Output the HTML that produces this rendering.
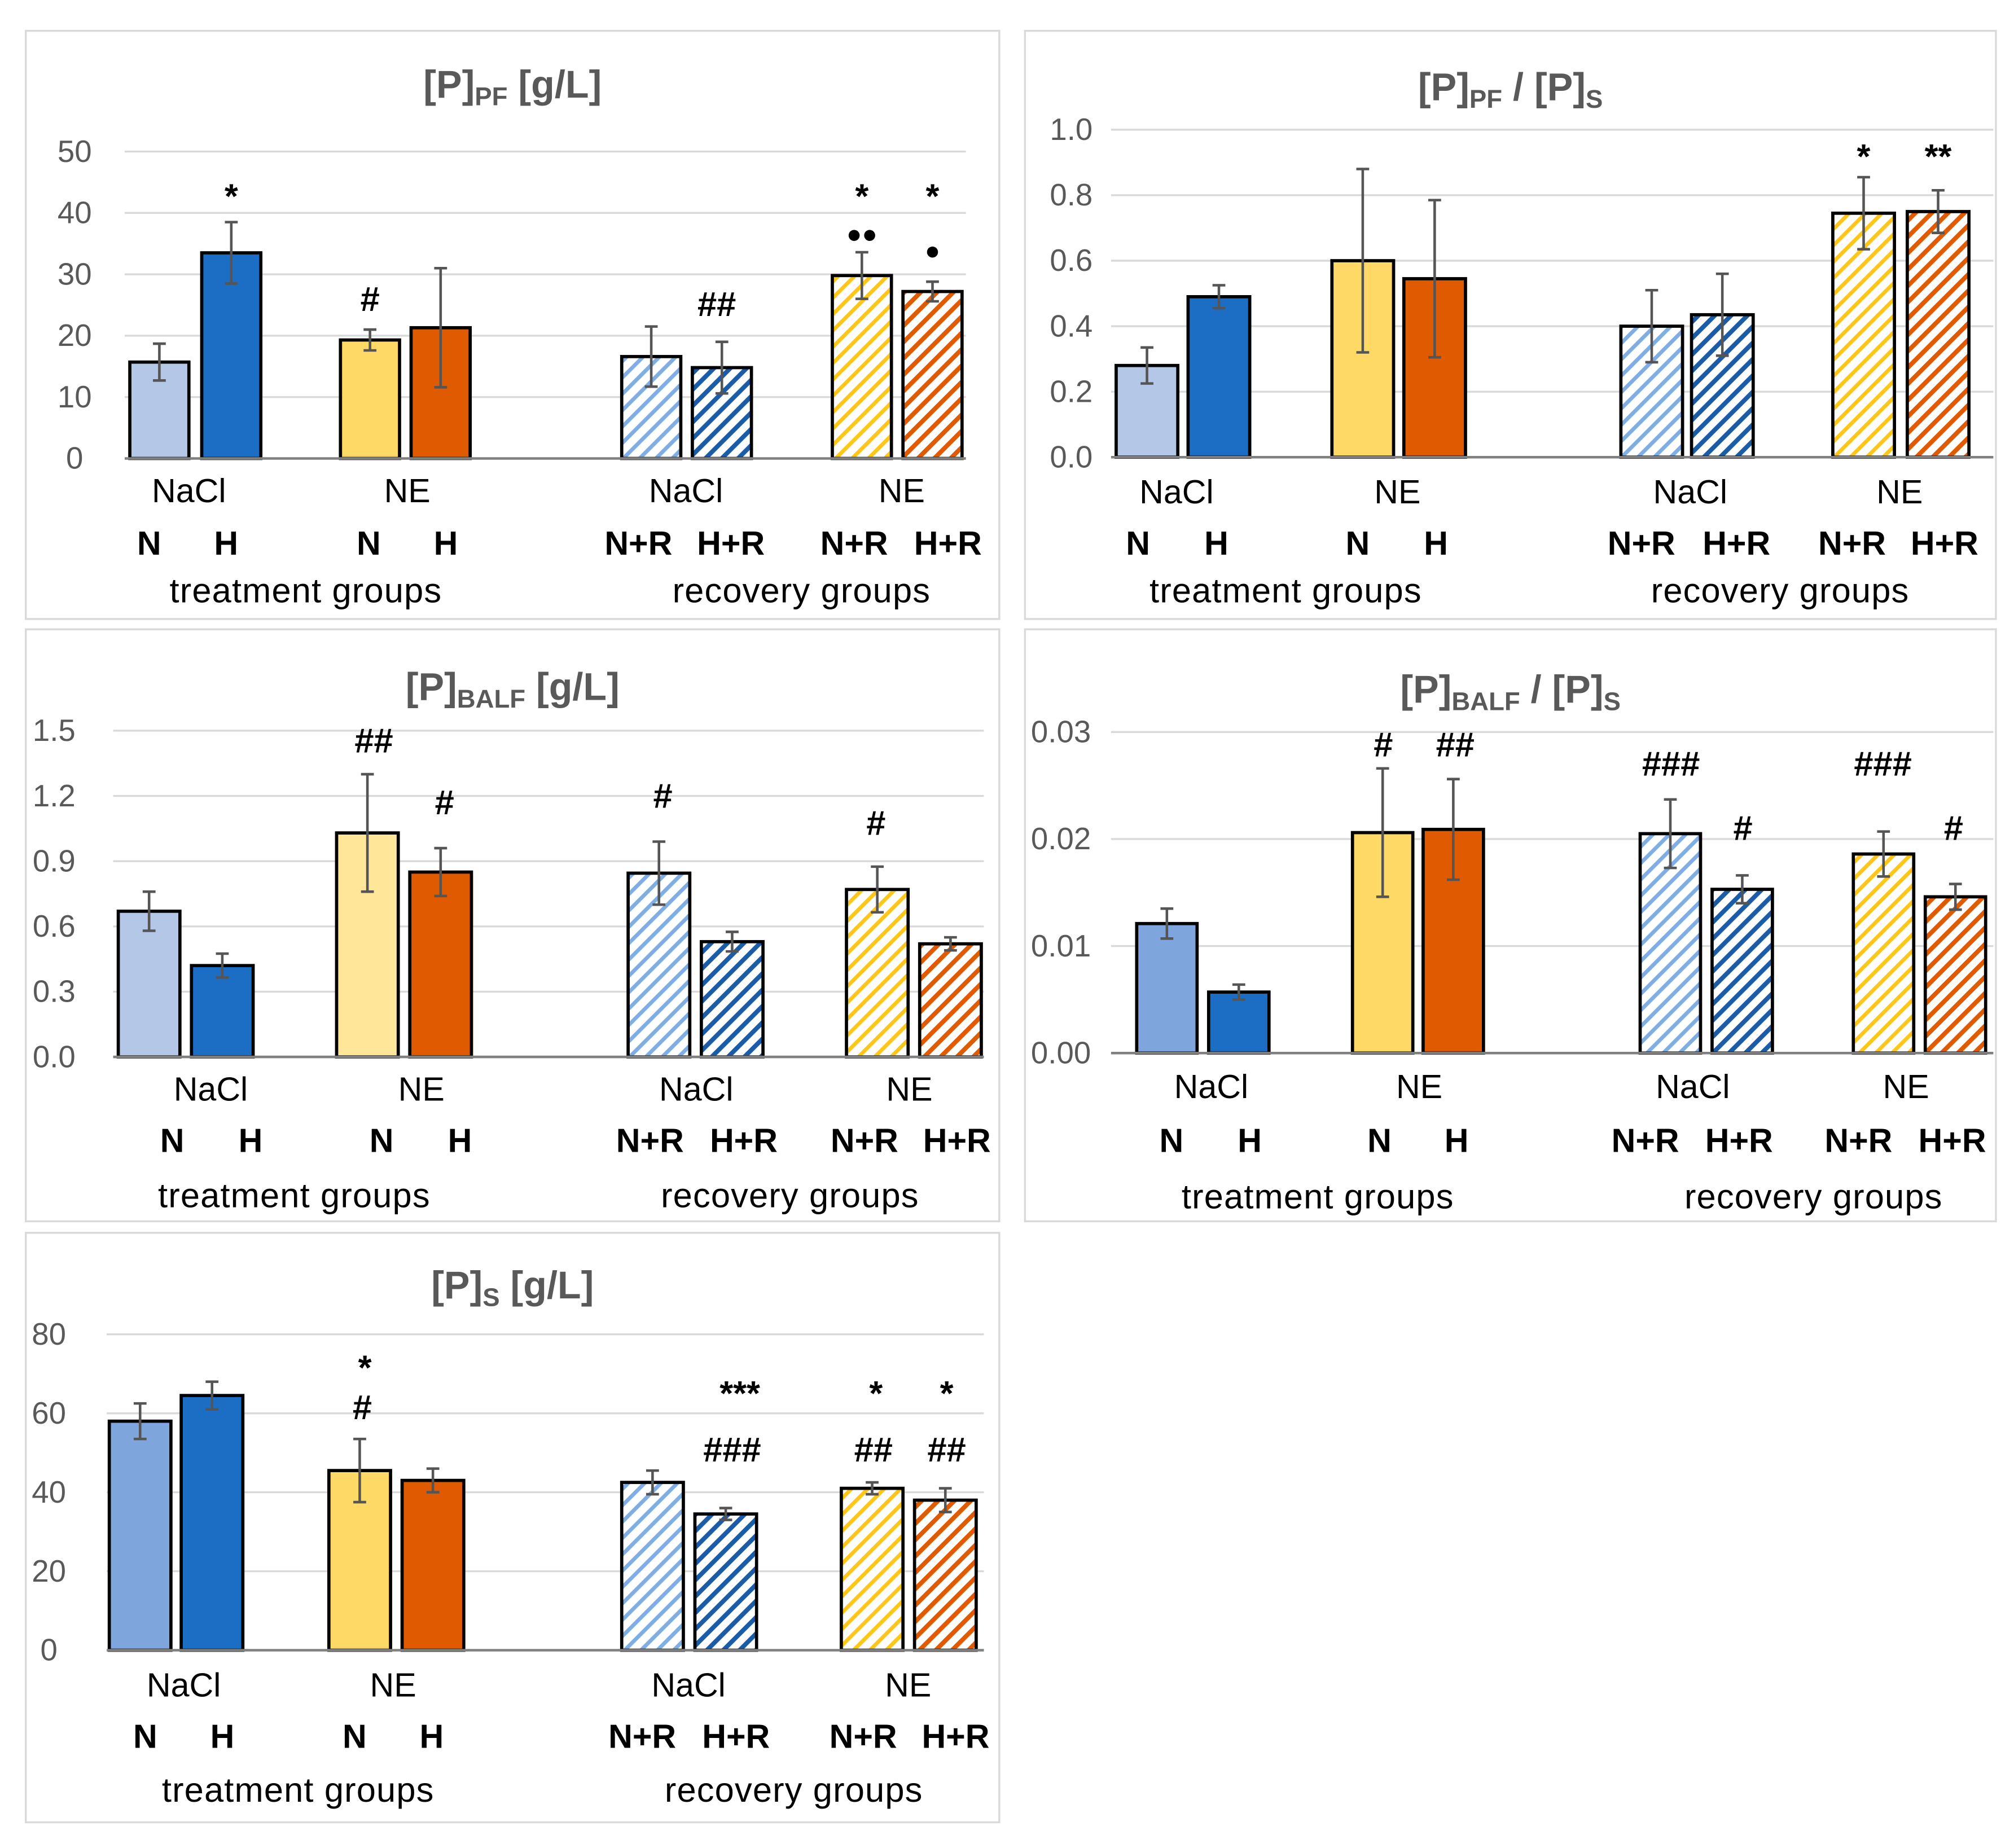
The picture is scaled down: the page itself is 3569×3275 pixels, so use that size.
<!DOCTYPE html>
<html><head><meta charset="utf-8">
<style>html,body{margin:0;padding:0;background:#fff;}svg{display:block;}</style>
</head><body>
<svg id="fig" xmlns="http://www.w3.org/2000/svg" width="3569" height="3275" viewBox="0 0 1568 1439" font-family="'Liberation Sans', 'DejaVu Sans', sans-serif">
<defs>
<pattern id="h-lb" patternUnits="userSpaceOnUse" width="9" height="9" patternTransform="rotate(45)"><rect width="9" height="9" fill="#fff"/><rect width="3" height="9" fill="#7EAEE3"/></pattern>
<pattern id="h-db" patternUnits="userSpaceOnUse" width="9" height="9" patternTransform="rotate(45)"><rect width="9" height="9" fill="#fff"/><rect width="3.5" height="9" fill="#1B5CA8"/></pattern>
<pattern id="h-y" patternUnits="userSpaceOnUse" width="9" height="9" patternTransform="rotate(45)"><rect width="9" height="9" fill="#fff"/><rect width="3" height="9" fill="#FFC61A"/></pattern>
<pattern id="h-o" patternUnits="userSpaceOnUse" width="9" height="9" patternTransform="rotate(45)"><rect width="9" height="9" fill="#fff"/><rect width="3.5" height="9" fill="#E05A00"/></pattern>
</defs>
</svg>
<script>
// ---- data ----
const p1Values = [15.7, 33.5, 19.3, 21.3, 16.6, 14.8, 29.8, 27.2];
const p1Errors = [3.0, 5.0, 1.7, 9.7, 4.9, 4.2, 3.8, 1.6];
const p1Ticks = ["0","10","20","30","40","50"];
const p2Values = [0.28, 0.49, 0.60, 0.545, 0.40, 0.435, 0.745, 0.75];
const p2Errors = [0.055, 0.035, 0.28, 0.24, 0.11, 0.125, 0.11, 0.065];
const p2Ticks = ["0.0","0.2","0.4","0.6","0.8","1.0"];
const p3Values = [0.67, 0.42, 1.03, 0.85, 0.845, 0.53, 0.77, 0.52];
const p3Errors = [0.09, 0.055, 0.27, 0.11, 0.145, 0.045, 0.105, 0.03];
const p3Ticks = ["0.0","0.3","0.6","0.9","1.2","1.5"];
const p4Values = [0.0121, 0.0057, 0.0206, 0.0209, 0.0205, 0.0153, 0.0186, 0.0146];
const p4Errors = [0.0014, 0.0007, 0.006, 0.0047, 0.0032, 0.0013, 0.0021, 0.0012];
const p4Ticks = ["0.00","0.01","0.02","0.03"];
const p5Values = [58, 64.5, 45.5, 43, 42.5, 34.5, 41, 38];
const p5Errors = [4.5, 3.5, 8, 3, 3, 1.5, 1.5, 3];
const p5Ticks = ["0","20","40","60","80"];

const NS = "http://www.w3.org/2000/svg";
const svg = document.getElementById('fig');
function mk(tag, attrs, parent){const e=document.createElementNS(NS,tag);for(const k in attrs)e.setAttribute(k,attrs[k]);(parent||svg).appendChild(e);return e;}
function txt(s, attrs, parent){const e=mk('text',attrs,parent);e.textContent=s;return e;}

const cLB="#B4C7E7", cB="#1C6EC4", cY="#FFD966", cO="#E05A00";
const panels = [
 {box:[20,24,758,458], title:[["[P]",0],["PF",1],["  [g/L]",0]], tx:399, ty:76,
  vals:p1Values, errs:p1Errors, ticks:p1Ticks, max:50, y0:357, yTop:118, gx:[97,752], tickX:58,
  left:[101,157,265,320,484,539,648,703], bw:46,
  fills:[cLB,cB,cY,cO,"url(#h-lb)","url(#h-db)","url(#h-y)","url(#h-o)"],
  ly:[382,423,460], grp:[147,317,534,702], sub:[116,176,287,347,497,569,665,738], tg:[238,624],
  ann:[["*",180,162],["#",288,242],["##",558,246],["*",671,162],["●●",671,189],["*",726,162],["●",726,202]]},
 {box:[798,24,756,458], title:[["[P]",0],["PF",1],[" / [P]",0],["S",1]], tx:1176, ty:78,
  vals:p2Values, errs:p2Errors, ticks:p2Ticks, max:1.0, y0:356, yTop:101, gx:[865,1552], tickX:834,
  left:[869,925,1037,1093,1262,1317,1427,1485], bw:48,
  fills:[cLB,cB,cY,cO,"url(#h-lb)","url(#h-db)","url(#h-y)","url(#h-o)"],
  ly:[383,423,460], grp:[916,1088,1316,1479], sub:[886,947,1057,1118,1278,1352,1442,1514], tg:[1001,1386],
  ann:[["*",1451,131],["**",1509,131]]},
 {box:[20,490,758,461], title:[["[P]",0],["BALF",1],["  [g/L]",0]], tx:399, ty:545,
  vals:p3Values, errs:p3Errors, ticks:p3Ticks, max:1.5, y0:823, yTop:569, gx:[88,766], tickX:42,
  left:[92,149,262,319,489,546,659,716], bw:48,
  fills:[cLB,cB,"#FFE699",cO,"url(#h-lb)","url(#h-db)","url(#h-y)","url(#h-o)"],
  ly:[848,888,931], grp:[164,328,542,708], sub:[134,195,297,358,506,579,673,745], tg:[229,615],
  ann:[["##",291,586],["#",346,634],["#",516,629],["#",682,650]]},
 {box:[798,490,756,461], title:[["[P]",0],["BALF",1],[" / [P]",0],["S",1]], tx:1176, ty:547,
  vals:p4Values, errs:p4Errors, ticks:p4Ticks, max:0.03, y0:820, yTop:570, gx:[865,1552], tickX:826,
  left:[885,941,1053,1108,1277,1333,1443,1499], bw:47,
  fills:["#7FA6DC",cB,cY,cO,"url(#h-lb)","url(#h-db)","url(#h-y)","url(#h-o)"],
  ly:[846,888,932], grp:[943,1105,1318,1484], sub:[912,973,1074,1134,1281,1354,1447,1520], tg:[1026,1412],
  ann:[["#",1077,589],["##",1133,589],["###",1301,604],["#",1357,654],["###",1466,604],["#",1521,654]]},
 {box:[20,960,758,459], title:[["[P]",0],["S",1],[" [g/L]",0]], tx:399, ty:1011,
  vals:p5Values, errs:p5Errors, ticks:p5Ticks, max:80, y0:1285, yTop:1039, gx:[83,766], tickX:38,
  left:[85,141,256,313,484,541,655,712], bw:48,
  fills:["#7FA6DC",cB,cY,cO,"url(#h-lb)","url(#h-db)","url(#h-y)","url(#h-o)"],
  ly:[1312,1352,1394], grp:[143,306,536,707], sub:[113,173,276,336,500,573,672,744], tg:[232,618],
  ann:[["*",284,1074],["#",282,1105],["***",576,1094],["###",570,1138],["*",682,1094],["##",680,1138],["*",737,1094],["##",737,1138]]}
];
const grpNames=["NaCl","NE","NaCl","NE"], subNames=["N","H","N","H","N+R","H+R","N+R","H+R"], tgNames=["treatment groups","recovery groups"];

panels.forEach((p,pi)=>{
  const g=mk('g',{});
  
  
  const b=p.box;
  const frame=mk('rect',{x:b[0],y:b[1],width:b[2],height:b[3],fill:'#fff',stroke:'#D9D9D9','stroke-width':1.5},g);
  
  
  const t=mk('text',{x:p.tx,y:p.ty,'text-anchor':'middle','font-size':30,'font-weight':'bold',fill:'#595959'},g);
  
  
  let sub=false;
  p.title.forEach(([s,isSub])=>{const ts=mk('tspan',{},t);ts.textContent=s;
    if(isSub&&!sub){ts.setAttribute('font-size',20);ts.setAttribute('dy',6);sub=true;}
    else if(!isSub&&sub){ts.setAttribute('font-size',30);ts.setAttribute('dy',-6);sub=false;}});
  const yS=v=>p.y0-(v/p.max)*(p.y0-p.yTop);
  const n=p.ticks.length;
  p.ticks.forEach((tk,i)=>{
    const v=p.max*i/(n-1); const y=yS(v);
    if(i>0){const gl=mk('line',{x1:p.gx[0],x2:p.gx[1],y1:y,y2:y,stroke:'#D9D9D9','stroke-width':1.5},g);
      }
    const tl=txt(tk,{x:p.tickX,y:y+8,'text-anchor':'middle','font-size':24,fill:'#595959'},g);
    
  });
  p.vals.forEach((v,i)=>{
    const x=p.left[i], y=yS(v);
    const r=mk('rect',{x:x,y:y,width:p.bw,height:p.y0-y,fill:p.fills[i],stroke:'#000','stroke-width':2.5},g);
    
    
    const cx=x+p.bw/2, e=p.errs[i], y1=yS(v+e), y2=yS(v-e);
    const eb=mk('path',{d:`M${cx},${y1}V${y2}M${cx-5},${y1}H${cx+5}M${cx-5},${y2}H${cx+5}`,stroke:'#555','stroke-width':2,fill:'none'},g);
    
  });
  const ax=mk('line',{x1:p.gx[0],x2:p.gx[1],y1:p.y0,y2:p.y0,stroke:'#808080','stroke-width':2},g);
  
  p.grp.forEach((x,i)=>{const e=txt(grpNames[i],{x:x,y:p.ly[0]+9,'text-anchor':'middle','font-size':26,fill:'#000'},g);
    });
  p.sub.forEach((x,i)=>{const e=txt(subNames[i],{x:x,y:p.ly[1]+9,'text-anchor':'middle','font-size':26,'font-weight':'bold',fill:'#000'},g);
    });
  p.tg.forEach((x,i)=>{const e=txt(tgNames[i],{x:x,y:p.ly[2]+9,'text-anchor':'middle','font-size':27,fill:'#000','letter-spacing':0.5},g);
    });
  p.ann.forEach(a=>{const dot=a[0].includes('●');
    const e=txt(a[0],{x:a[1],y:a[2],'text-anchor':'middle','font-size':dot?20:27,'font-weight':'bold',fill:'#000'},g);
    });
});
</script>
</body></html>
